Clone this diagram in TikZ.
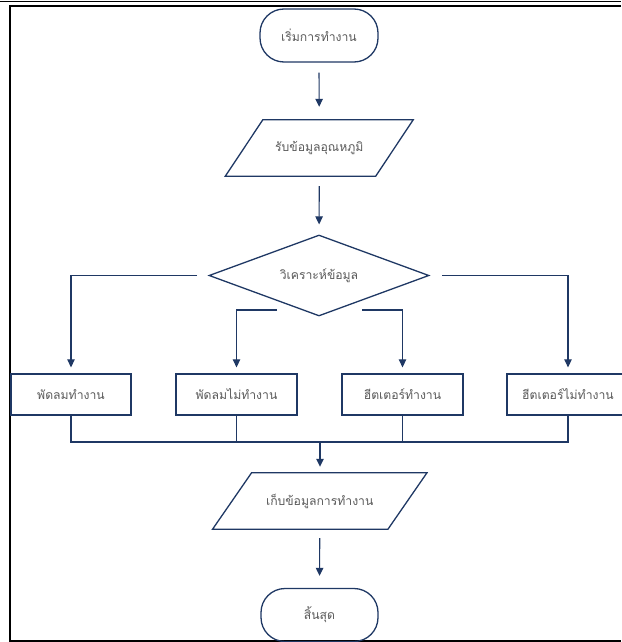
\documentclass[tikz,border=0pt]{standalone}
\usepackage{fontspec}
\newfontfamily\thaifont[Script=Thai]{Loma}
\usetikzlibrary{shapes.geometric,arrows.meta}
\definecolor{navy}{HTML}{1F3864}
\definecolor{txt}{HTML}{595959}
\begin{document}
\begin{tikzpicture}[x=1pt,y=-1pt,
  every node/.style={font=\thaifont\fontsize{12.2}{14}\selectfont, text=txt},
  shapeline/.style={draw=navy, line width=1.3pt},
  terminal/.style={shapeline, rectangle, rounded corners=24pt, minimum height=53pt, inner sep=0pt},
  procbox/.style={shapeline, rectangle, minimum height=41pt, inner sep=0pt},
  iotext/.style={rectangle, minimum height=56pt, inner sep=0pt},
  decision/.style={shapeline, diamond, minimum width=220pt, minimum height=81pt, inner sep=0pt},
  conn/.style={draw=navy, line width=1.2pt},
  arr/.style={conn, -{Triangle[length=8pt,width=7.5pt]}}
]
\useasboundingbox (0,0) rectangle (621,642);
% frame
\draw[black, line width=0.8pt] (0,1) -- (621,1);
\draw[black, line width=2pt] (621,6.5) -- (10.2,6.5) -- (10.2,640.5) -- (621,640.5);

\node[terminal, minimum width=118pt] (start) at (319,35.5) {เริ่มการทำงาน};
\node[iotext, minimum width=150pt] (in1) at (319.25,148) {รับข้อมูลอุณหภูมิ};
\draw[shapeline, line join=miter]
  ([xshift=18.75pt]in1.north west) -- ([xshift=18.75pt]in1.north east)
  -- ([xshift=-18.75pt]in1.south east) -- ([xshift=-18.75pt]in1.south west) -- cycle;
\node[decision, label={center:วิเคราะห์ข้อมูล}] (dec) at (319,275.5) {};
\node[procbox, minimum width=120pt] (b1) at (71,394.5) {พัดลมทำงาน};
\node[procbox, minimum width=121pt] (b2) at (236.5,394.5) {พัดลมไม่ทำงาน};
\node[procbox, minimum width=121pt] (b3) at (402.5,394.5) {ฮีตเตอร์ทำงาน};
\node[procbox, minimum width=122pt] (b4) at (568,394.5) {ฮีตเตอร์ไม่ทำงาน};
\node[iotext, minimum width=175pt] (in2) at (319.75,501) {เก็บข้อมูลการทำงาน};
\draw[shapeline, line join=miter]
  ([xshift=19.5pt]in2.north west) -- ([xshift=19.5pt]in2.north east)
  -- ([xshift=-19.5pt]in2.south east) -- ([xshift=-19.5pt]in2.south west) -- cycle;
\node[terminal, minimum width=117pt] (end) at (319.5,615) {สิ้นสุด};

\coordinate (dl) at (197,275.5);
\coordinate (dr) at (442,275.5);
\coordinate (il) at (277,310);
\coordinate (ir) at (362,310);
\coordinate (m) at (320,442);

\draw[arr, shorten <=10pt, shorten >=13pt] (start) -- (in1);
\draw[arr, shorten <=10pt, shorten >=10pt] (in1) -- (dec);
\draw[arr, shorten >=6pt] (dl) -| (b1.north);
\draw[arr, shorten >=6pt] (dr) -| (b4.north);
\draw[arr, shorten >=6pt] (il) -| (b2.north);
\draw[arr, shorten >=6pt] (ir) -| (b3.north);
\draw[conn] (b1.south) |- (b4.south |- m) -- (b4.south);
\draw[conn] (b2.south) -- (b2.south |- m);
\draw[conn] (b3.south) -- (b3.south |- m);
\draw[arr, shorten >=6pt] (m) -- (in2.north -| m);
\draw[arr, shorten <=9pt, shorten >=12pt] (in2) -- (end);
\end{tikzpicture}
\end{document}
